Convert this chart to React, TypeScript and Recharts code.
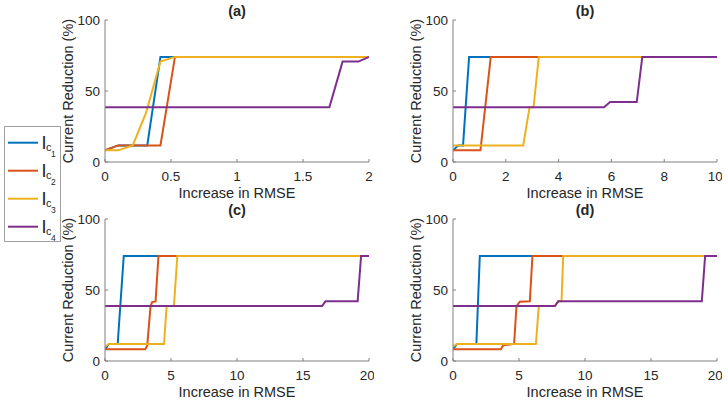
import { LineChart, Line, XAxis, YAxis } from "recharts";

type Pt = { x: number; y: number };

// series: I_c1 .. I_c4
const seriesNames = ["1", "2", "3", "4"];
const seriesColors = ["#0072BD", "#D95319", "#EDB120", "#7E2F8E"];

// (a)
const aIc1: Pt[] = [{ x: 0, y: 8.2 }, { x: 0.1, y: 11.7 }, { x: 0.32, y: 11.7 }, { x: 0.42, y: 74 }, { x: 2, y: 74 }];
const aIc2: Pt[] = [{ x: 0, y: 8.2 }, { x: 0.1, y: 11.7 }, { x: 0.42, y: 11.7 }, { x: 0.53, y: 74 }, { x: 2, y: 74 }];
const aIc3: Pt[] = [{ x: 0, y: 8.2 }, { x: 0.1, y: 8.2 }, { x: 0.21, y: 11.7 }, { x: 0.31, y: 34.4 }, { x: 0.42, y: 70.7 }, { x: 0.53, y: 74 }, { x: 2, y: 74 }];
const aIc4: Pt[] = [{ x: 0, y: 38.6 }, { x: 1.7, y: 38.6 }, { x: 1.8, y: 70.7 }, { x: 1.92, y: 70.7 }, { x: 2, y: 74 }];

// (b)
const bIc1: Pt[] = [{ x: 0, y: 8.2 }, { x: 0.2, y: 11.7 }, { x: 0.38, y: 11.7 }, { x: 0.61, y: 74 }, { x: 10, y: 74 }];
const bIc2: Pt[] = [{ x: 0, y: 8.2 }, { x: 1.04, y: 8.2 }, { x: 1.43, y: 74 }, { x: 10, y: 74 }];
const bIc3: Pt[] = [{ x: 0, y: 11.7 }, { x: 2.66, y: 11.7 }, { x: 2.9, y: 38.6 }, { x: 3.05, y: 38.6 }, { x: 3.25, y: 74 }, { x: 10, y: 74 }];
const bIc4: Pt[] = [{ x: 0, y: 38.6 }, { x: 5.72, y: 38.6 }, { x: 5.95, y: 42.2 }, { x: 6.96, y: 42.2 }, { x: 7.17, y: 74 }, { x: 10, y: 74 }];

// (c)
const cIc1: Pt[] = [{ x: 0, y: 8.2 }, { x: 0.3, y: 12 }, { x: 0.96, y: 12 }, { x: 1.42, y: 74 }, { x: 20, y: 74 }];
const cIc2: Pt[] = [{ x: 0, y: 8.2 }, { x: 3.05, y: 8.2 }, { x: 3.2, y: 11 }, { x: 3.45, y: 38.7 }, { x: 3.57, y: 41.5 }, { x: 3.83, y: 42 }, { x: 4.05, y: 74 }, { x: 20, y: 74 }];
const cIc3: Pt[] = [{ x: 0, y: 10 }, { x: 0.3, y: 12 }, { x: 4.47, y: 12 }, { x: 4.67, y: 38.7 }, { x: 5.22, y: 38.7 }, { x: 5.48, y: 74 }, { x: 20, y: 74 }];
const cIc4: Pt[] = [{ x: 0, y: 38.7 }, { x: 16.45, y: 38.7 }, { x: 16.7, y: 42 }, { x: 19.14, y: 42 }, { x: 19.4, y: 74 }, { x: 20, y: 74 }];

// (d)
const dIc1: Pt[] = [{ x: 0, y: 8.2 }, { x: 0.3, y: 12 }, { x: 1.77, y: 12 }, { x: 2.03, y: 74 }, { x: 20, y: 74 }];
const dIc2: Pt[] = [{ x: 0, y: 8.2 }, { x: 3.62, y: 8.2 }, { x: 3.8, y: 11 }, { x: 4.63, y: 12 }, { x: 4.81, y: 38.7 }, { x: 5.06, y: 41.8 }, { x: 5.82, y: 42 }, { x: 6.02, y: 74 }, { x: 20, y: 74 }];
const dIc3: Pt[] = [{ x: 0, y: 10 }, { x: 0.3, y: 12 }, { x: 6.28, y: 12 }, { x: 6.5, y: 38.7 }, { x: 7.72, y: 38.7 }, { x: 7.97, y: 42 }, { x: 8.22, y: 42 }, { x: 8.35, y: 74 }, { x: 20, y: 74 }];
const dIc4: Pt[] = [{ x: 0, y: 38.7 }, { x: 7.72, y: 38.7 }, { x: 7.97, y: 42 }, { x: 18.85, y: 42 }, { x: 19.1, y: 74 }, { x: 20, y: 74 }];

const ticksA = [0, 0.5, 1, 1.5, 2];
const ticksB = [0, 2, 4, 6, 8, 10];
const ticksCD = [0, 5, 10, 15, 20];
const yTicks = [0, 50, 100];

const panels = [
  { title: "(a)", xTicks: ticksA, lines: [aIc1, aIc2, aIc3, aIc4] },
  { title: "(b)", xTicks: ticksB, lines: [bIc1, bIc2, bIc3, bIc4] },
  { title: "(c)", xTicks: ticksCD, lines: [cIc1, cIc2, cIc3, cIc4] },
  { title: "(d)", xTicks: ticksCD, lines: [dIc1, dIc2, dIc3, dIc4] },
];
const spots = [
  { left: 55, top: 0 },
  { left: 403, top: 0 },
  { left: 55, top: 199 },
  { left: 403, top: 199 },
];

const ink = "#262626";
const axisGray = "#808080";

function Panel({ title, xTicks, lines, left, top }: { title: string; xTicks: number[]; lines: Pt[][]; left: number; top: number }) {
  return (
    <div style={{ position: "absolute", left, top, width: 319, height: 200 }}>
      <LineChart width={319} height={200} margin={{ top: 20, right: 5, bottom: 0, left: 0 }}>
        <XAxis
          type="number"
          dataKey="x"
          domain={[0, xTicks[xTicks.length - 1]]}
          ticks={xTicks}
          allowDataOverflow
          height={38}
          stroke={axisGray}
          tickSize={-3}
          tickMargin={12}
          tick={{ fill: ink, fontSize: 13.5 }}
          label={{ value: "Increase in RMSE", position: "insideBottom", offset: 2, fill: ink, fontSize: 14.5 }}
        />
        <YAxis
          type="number"
          domain={[0, 100]}
          ticks={yTicks}
          width={50}
          stroke={axisGray}
          tickSize={-3}
          tickMargin={8}
          tick={{ fill: ink, fontSize: 13.5 }}
          label={{ value: "Current Reduction (%)", angle: -90, position: "insideLeft", offset: 13, fill: ink, fontSize: 14.5, style: { textAnchor: "middle" } }}
        />
        {lines.map((pts, i) => (
          <Line
            key={i}
            data={pts}
            dataKey="y"
            type="linear"
            stroke={seriesColors[i]}
            strokeWidth={2}
            dot={false}
            isAnimationActive={false}
          />
        ))}
      </LineChart>
      <div style={{ position: "absolute", left: 50, width: 264, top: 3, textAlign: "center", fontWeight: "bold", fontSize: 14.5, lineHeight: "16px", color: ink }}>
        {title}
      </div>
    </div>
  );
}

function LegendBox() {
  return (
    <svg style={{ position: "absolute", left: 0, top: 120 }} width={70} height={130}>
      <rect x={4.5} y={6.5} width={56} height={115} fill="#fff" stroke="#a0a0a0" />
      {seriesNames.map((n, i) => {
        const cy = 22.7 + i * 28;
        return (
          <g key={n}>
            <line x1={8} x2={38} y1={cy} y2={cy} stroke={seriesColors[i]} strokeWidth={2} />
            <text x={41.5} y={cy + 6.5} fontSize={18} fill={ink}>I</text>
            <text x={46} y={cy + 8} fontSize={11} fill={ink}>c</text>
            <text x={51} y={cy + 14} fontSize={8.5} fill={ink}>{n}</text>
          </g>
        );
      })}
    </svg>
  );
}

export default function App() {
  return (
    <div
      style={{
        position: "absolute",
        left: 0,
        top: 0,
        width: 728,
        height: 403,
        background: "#fff",
        fontFamily: "'Liberation Sans', Arial, Helvetica, sans-serif",
      }}
    >
      {panels.map((p, i) => (
        <Panel key={p.title} title={p.title} xTicks={p.xTicks} lines={p.lines} left={spots[i].left} top={spots[i].top} />
      ))}
      <LegendBox />
    </div>
  );
}
